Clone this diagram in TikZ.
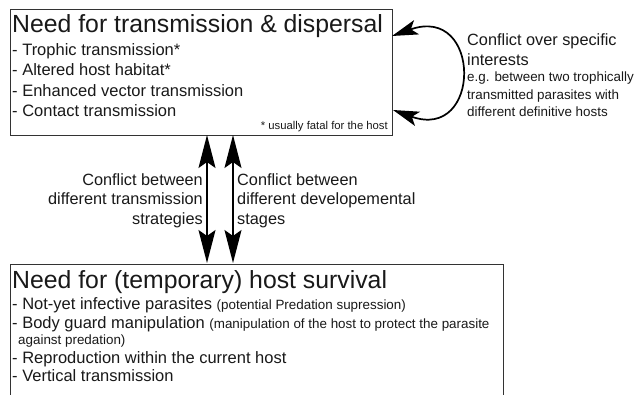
\documentclass[tikz,border=0pt]{standalone}
\usepackage{fontspec}
\setmainfont{Liberation Sans}
\usetikzlibrary{arrows.meta}
\newcommand\smallpart{\fontsize{13.4}{16}\selectfont}
\begin{document}
\begin{tikzpicture}[x=1pt,y=-1pt,
  box/.style={draw=black!80,line width=1.2pt,inner sep=0pt,anchor=north west},
  titletext/.style={anchor=base west,inner sep=0pt,text=black!90,font=\fontsize{24.8}{30}\selectfont},
  itemtext/.style={anchor=base west,inner sep=0pt,text=black!90,font=\fontsize{16.5}{20}\selectfont},
  midtext/.style={inner sep=0pt,text=black!90,font=\fontsize{16.3}{20}\selectfont},
  smalltext/.style={anchor=base west,inner sep=0pt,text=black!90,font=\smallpart},
  tinytext/.style={anchor=base east,inner sep=0pt,text=black!90,font=\fontsize{11.3}{13}\selectfont},
  bigarrow/.style={line width=1.7pt,{Stealth[length=33pt,width=17pt,inset=6pt]}-{Stealth[length=33pt,width=17pt,inset=6pt]}},
  loopedarrow/.style={line width=1.7pt,{Stealth[length=26pt,width=15pt,inset=6pt]}-{Stealth[length=26pt,width=15pt,inset=6pt]}}
]
\clip (0,0) rectangle (637,395);
\fill[white] (0,0) rectangle (637,395);

% top box
\node[box,minimum width=382pt,minimum height=126pt] (top) at (10,9) {};
\node[titletext] (t0) at (12,33) {Need for transmission \& dispersal};
\node[itemtext] (t1) at (12,56) {- Trophic transmission*};
\node[itemtext] (t2) at (12,76) {- Altered host habitat*};
\node[itemtext] (t3) at (12,97) {- Enhanced vector transmission};
\node[itemtext] (t4) at (12,117) {- Contact transmission};
\node[tinytext] (tn) at (388,130) {* usually fatal for the host};

% bottom box
\node[box,minimum width=493pt,minimum height=160pt] (bot) at (10,264) {};
\node[titletext] (b0) at (12,289) {Need for (temporary) host survival};
\node[itemtext] (b1) at (12,309) {- Not-yet infective parasites {\smallpart(potential Predation supression)}};
\node[itemtext] (b2) at (12,328) {- Body guard manipulation {\smallpart(manipulation of the host to protect the parasite}};
\node[smalltext] (b2b) at (18,344) {against predation)};
\node[itemtext] (b3) at (12,363) {- Reproduction within the current host};
\node[itemtext] (b4) at (12,381) {- Vertical transmission};

% vertical arrows
\coordinate (a1t) at (207,135);
\coordinate (a1b) at (207,263);
\coordinate (a2t) at (233,135);
\coordinate (a2b) at (233,263);
\draw[bigarrow] (a1t) -- (a1b);
\draw[bigarrow] (a2t) -- (a2b);

\node[midtext,anchor=base east] (l1) at (203,186) {Conflict between};
\node[midtext,anchor=base east] (l2) at (203,205) {different transmission};
\node[midtext,anchor=base east] (l3) at (203,225) {strategies};
\node[midtext,anchor=base west] (r1) at (237,186) {Conflict between};
\node[midtext,anchor=base west] (r2) at (237,205) {different developemental};
\node[midtext,anchor=base west] (r3) at (237,225) {stages};

% loop arrow
\coordinate (c1) at (392,36);
\coordinate (c2) at (393,110);
\draw[loopedarrow] (c1) .. controls (482,4) and (482,142) .. (c2);

\node[midtext,anchor=base west] (s1) at (467,46) {Conflict over specific};
\node[midtext,anchor=base west] (s2) at (467,66) {interests};
\node[smalltext] (s3) at (467,82) {e.g. between two trophically};
\node[smalltext] (s4) at (467,100) {transmitted parasites with};
\node[smalltext] (s5) at (467,117) {different definitive hosts};
\end{tikzpicture}
\end{document}
